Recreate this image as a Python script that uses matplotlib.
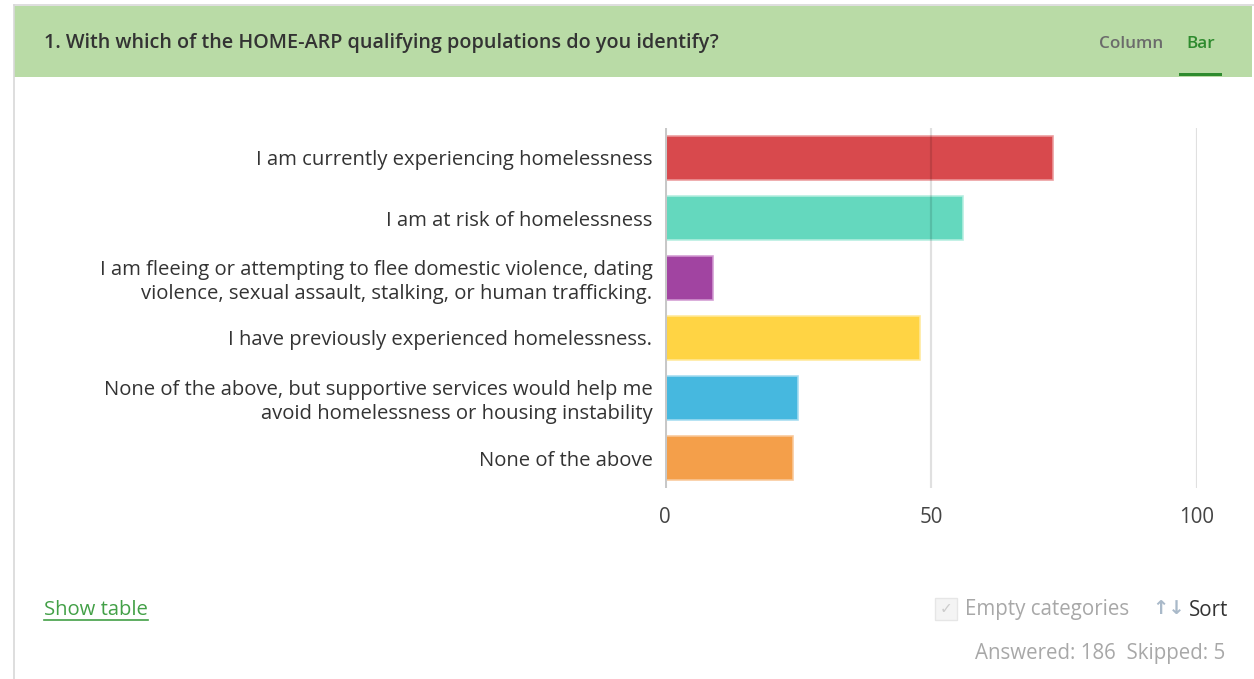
import matplotlib.pyplot as plt
from matplotlib.patches import Rectangle
from matplotlib.lines import Line2D

plt.rcParams['font.family'] = ['Open Sans', 'DejaVu Sans']

answers = [
    "I am currently experiencing homelessness",
    "I am at risk of homelessness",
    "I am fleeing or attempting to flee domestic violence, dating\nviolence, sexual assault, stalking, or human trafficking.",
    "I have previously experienced homelessness.",
    "None of the above, but supportive services would help me\navoid homelessness or housing instability",
    "None of the above",
]
counts = [73, 56, 9, 48, 25, 24]
bar_colors = ['#d63f43', '#5cd6bb', '#9c3a9c', '#ffd23a', '#3cb4de', '#f49a40']
edge_colors = ['#ec9a9c', '#b5eee0', '#d29ad2', '#ffe99a', '#a5dcf0', '#f9c899']
x_ticks = [0, 50, 100]
answered, skipped = 186, 5

W, H = 1254, 679
fig = plt.figure(figsize=(W / 100, H / 100), dpi=100)
fig.patch.set_facecolor('white')

# header band and card border
fig.add_artist(Rectangle((14 / W, 1 - 77 / H), (W - 16) / W, 71 / H,
                         transform=fig.transFigure, facecolor='#b9dba6',
                         edgecolor='none'))
fig.add_artist(Line2D([14 / W, 1], [1 - 5 / H, 1 - 5 / H],
                      transform=fig.transFigure, color='#d8d8d8', lw=1.2))
fig.add_artist(Line2D([14 / W, 14 / W], [0, 1 - 5 / H],
                      transform=fig.transFigure, color='#d8d8d8', lw=1.2))
fig.text(44 / W, 1 - 43 / H,
         "1. With which of the HOME-ARP qualifying populations do you identify?",
         fontsize=14.2, fontweight='semibold', color='#333333', va='center')
fig.text(1131 / W, 1 - 44 / H, "Column", fontsize=12.3, fontweight='semibold',
         color='#6b6b6b', va='center', ha='center')
fig.text(1201 / W, 1 - 44 / H, "Bar", fontsize=12.3, fontweight='semibold',
         color='#2e8b2e', va='center', ha='center')
fig.add_artist(Rectangle((1179 / W, 1 - 76 / H), 43 / W, 3 / H,
                         transform=fig.transFigure, facecolor='#2e8b2e',
                         edgecolor='none'))

# chart
ax = fig.add_axes([665 / W, 1 - 488 / H, 532 / W, 360 / H])
y = list(range(len(counts)))
ax.barh(y, counts, height=0.74, color=bar_colors, edgecolor=edge_colors,
        linewidth=1.2, alpha=0.95, zorder=2)
ax.set_xlim(0, 100)
ax.set_ylim(len(counts) - 0.5, -0.5)
ax.set_xticks(x_ticks)
ax.set_xticklabels([str(t) for t in x_ticks], fontsize=14.8, color='#444444')
ax.tick_params(axis='x', length=0, pad=14)
ax.set_yticks(y)
ax.set_yticklabels(answers, fontsize=14.6, color='#333333', linespacing=1.2)
ax.tick_params(axis='y', length=0, pad=9)
for t in x_ticks[1:]:
    ax.axvline(t, color='#000000', alpha=0.12, lw=1.6, zorder=3)
ax.axvline(0, color='#c8c8c8', lw=2.2, zorder=4)
for s in ax.spines.values():
    s.set_visible(False)

# footer controls
fig.text(44 / W, 1 - 610 / H, "Show table", fontsize=14.6, color='#43a047',
         va='center')
fig.add_artist(Line2D([44 / W, 148 / W], [1 - 620 / H, 1 - 620 / H],
                      transform=fig.transFigure, color='#43a047', lw=1.2))
fig.add_artist(Rectangle((935 / W, 1 - 620 / H), 22 / W, 22 / H,
                         transform=fig.transFigure, facecolor='#f4f4f4',
                         edgecolor='#e6e6e6', lw=1))
fig.text(946 / W, 1 - 609 / H, "\u2713", fontsize=11, color='#cccccc',
         ha='center', va='center', family=['DejaVu Sans'])
fig.text(965 / W, 1 - 610 / H, "Empty categories", fontsize=14.8,
         color='#a8a8a8', va='center')
fig.text(1169 / W, 1 - 608 / H, "\u2191\u2193", fontsize=14, color='#a9b9c9',
         ha='center', va='center', family=['DejaVu Sans'], fontweight='bold')
fig.text(1189 / W, 1 - 610 / H, "Sort", fontsize=14.8, color='#333333',
         va='center')
fig.text(1225 / W, 1 - 653 / H, f"Answered: {answered}  Skipped: {skipped}",
         fontsize=14.8, color='#a8a8a8', va='center', ha='right')

fig.savefig('out.png', dpi=100, facecolor='white')
